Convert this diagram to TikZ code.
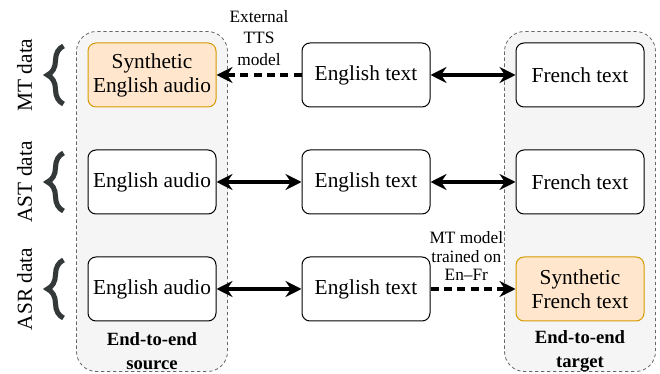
\documentclass[tikz,border=0pt]{standalone}
\usepackage{fontspec}
\setmainfont{Liberation Serif}
\usetikzlibrary{positioning,arrows.meta,calc,backgrounds,decorations.pathreplacing}
\definecolor{synfill}{HTML}{FFE6CC}
\definecolor{syndraw}{HTML}{D79B00}
\definecolor{grpfill}{HTML}{F5F5F5}
\definecolor{grpdraw}{HTML}{666666}
\definecolor{bracecol}{HTML}{333838}

\begin{document}
\begin{tikzpicture}[x=0.75pt,y=0.75pt,node distance=31.5pt and 63.75pt,
  box/.style={draw,rounded corners=6pt,fill=white,line width=0.75pt,minimum width=96pt,
    minimum height=48pt,align=center,font=\fontsize{16}{18}\selectfont},
  syn/.style={box,fill=synfill,draw=syndraw},
  tip/.style={},
  link/.style={{Stealth[length=12pt,width=12pt,inset=4pt]}-{Stealth[length=12pt,width=12pt,inset=4pt]},line width=2.4pt},
  gen/.style={-{Stealth[length=12pt,width=12pt,inset=4pt]},line width=2.4pt,dash pattern=on 6pt off 4pt},
  note/.style={align=center,inner sep=1pt,font=\fontsize{13}{16}\selectfont},
  grplabel/.style={align=center,font=\fontsize{14}{18}\selectfont\bfseries},
  group/.style={draw=grpdraw,fill=grpfill,line width=0.6pt,dash pattern=on 2.5pt off 2pt,rounded corners=15pt},
  datalabel/.style={rotate=90,font=\fontsize{16}{18}\selectfont},
  curly/.style={draw=bracecol,line width=3.8pt,decorate,decoration={brace,amplitude=12pt}}]
  \useasboundingbox (0,0) rectangle (660,374);

  % source column
  \node[syn] (a1) at (152,299) {Synthetic\\English audio};
  \node[box] (a2) [below=of a1] {English audio};
  \node[box] (a3) [below=of a2] {English audio};
  % middle column
  \node[box] (t1) [right=of a1] {English text};
  \node[box] (t2) [right=of a2] {English text};
  \node[box] (t3) [right=of a3] {English text};
  % target column
  \node[box] (f1) [right=of t1] {French text};
  \node[box] (f2) [right=of t2] {French text};
  \node[syn] (f3) [right=of t3] {Synthetic\\French text};

  \node[grplabel] (srclbl) at ($(a3.south)+(0,-30)$) {End-to-end\\source};
  \node[grplabel] (tgtlbl) at ($(f3.south)+(0,-30)$) {End-to-end\\target};

  \begin{scope}[on background layer]
    \draw[group] ($(a1.north west)+(-11,11)$) rectangle ($(a3.south east)+(11,-50)$);
    \draw[group] ($(f1.north west)+(-11,11)$) rectangle ($(f3.south east)+(11,-50)$);
  \end{scope}

  % data braces
  \foreach \r/\lbl in {a1/MT data,a2/AST data,a3/ASR data}{
    \draw[curly] ($(\r.west)+(-24,-29)$) -- ($(\r.west)+(-24,29)$);
    \node[datalabel] (\r lbl) at ($(\r.west)+(-63,0)$) {\lbl};
  }

  \path
  (t1) edge[gen] node[note,above=5pt] {External\\TTS\\model} (a1)
       edge[link] (f1)
  (a2) edge[link] (t2)
  (t2) edge[link] (f2)
  (a3) edge[link] (t3)
  (t3) edge[gen] node[note,above=4pt,xshift=-5pt,font=\fontsize{13}{14}\selectfont] {MT model\\trained on\\En--Fr} (f3);
\end{tikzpicture}
\end{document}
